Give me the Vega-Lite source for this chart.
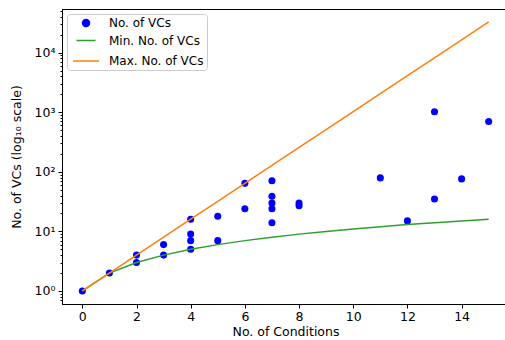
{
  "$schema": "https://vega.github.io/schema/vega-lite/v6.json",
  "width": 447,
  "height": 295,
  "autosize": {"type": "none"},
  "padding": {"left": 62, "top": 9, "right": 0, "bottom": 36},
  "background": "white",
  "config": {
    "view": {"stroke": "black", "strokeWidth": 1},
    "font": "DejaVu Sans",
    "axis": {
      "labelFont": "DejaVu Sans",
      "labelFontSize": 12.5,
      "labelColor": "black",
      "titleFont": "DejaVu Sans",
      "titleFontSize": 12.5,
      "titleFontWeight": "normal",
      "titleColor": "black",
      "domainColor": "black",
      "tickColor": "black",
      "grid": false
    },
    "legend": {
      "orient": "top-left",
      "offset": 5,
      "padding": 3,
      "symbolOffset": 2,
      "rowPadding": -3,
      "strokeColor": "#cccccc",
      "fillColor": "white",
      "cornerRadius": 3,
      "labelFont": "DejaVu Sans",
      "labelFontSize": 12,
      "labelColor": "black",
      "labelOffset": 9,
      "symbolStrokeWidth": 1.5,
      "symbolOpacity": 1
    }
  },
  "layer": [
    {
      "data": {"values": [
        {"cond": 0, "vcs": 1, "series": "No. of VCs"},
        {"cond": 1, "vcs": 2, "series": "No. of VCs"},
        {"cond": 2, "vcs": 4, "series": "No. of VCs"},
        {"cond": 2, "vcs": 3, "series": "No. of VCs"},
        {"cond": 3, "vcs": 6, "series": "No. of VCs"},
        {"cond": 3, "vcs": 4, "series": "No. of VCs"},
        {"cond": 4, "vcs": 16, "series": "No. of VCs"},
        {"cond": 4, "vcs": 9, "series": "No. of VCs"},
        {"cond": 4, "vcs": 7, "series": "No. of VCs"},
        {"cond": 4, "vcs": 5, "series": "No. of VCs"},
        {"cond": 5, "vcs": 18, "series": "No. of VCs"},
        {"cond": 5, "vcs": 7, "series": "No. of VCs"},
        {"cond": 6, "vcs": 64, "series": "No. of VCs"},
        {"cond": 6, "vcs": 24, "series": "No. of VCs"},
        {"cond": 7, "vcs": 71, "series": "No. of VCs"},
        {"cond": 7, "vcs": 39, "series": "No. of VCs"},
        {"cond": 7, "vcs": 30, "series": "No. of VCs"},
        {"cond": 7, "vcs": 24, "series": "No. of VCs"},
        {"cond": 7, "vcs": 14, "series": "No. of VCs"},
        {"cond": 8, "vcs": 30, "series": "No. of VCs"},
        {"cond": 8, "vcs": 27, "series": "No. of VCs"},
        {"cond": 11, "vcs": 79, "series": "No. of VCs"},
        {"cond": 12, "vcs": 15, "series": "No. of VCs"},
        {"cond": 13, "vcs": 1018, "series": "No. of VCs"},
        {"cond": 13, "vcs": 35, "series": "No. of VCs"},
        {"cond": 14, "vcs": 76, "series": "No. of VCs"},
        {"cond": 15, "vcs": 700, "series": "No. of VCs"}
      ]},
      "mark": {"type": "point", "filled": true, "opacity": 1},
      "encoding": {
        "x": {
          "field": "cond", "type": "quantitative",
          "scale": {"domain": [-0.75, 15.75], "nice": false, "zero": false},
          "axis": {"values": [0, 2, 4, 6, 8, 10, 12, 14], "title": "No. of Conditions", "tickSize": 4, "labelPadding": 2, "titlePadding": 3, "labelFlush": false}
        },
        "y": {
          "field": "vcs", "type": "quantitative",
          "scale": {"type": "log", "domain": [0.605, 53900], "nice": false},
          "axis": {
            "title": "No. of VCs (log₁₀ scale)",
            "titlePadding": 11,
            "labelPadding": 3,
            "labelFlush": false,
            "labelOverlap": false,
            "values": [0.7, 0.8, 0.9, 1, 2, 3, 4, 5, 6, 7, 8, 9, 10, 20, 30, 40, 50, 60, 70, 80, 90, 100, 200, 300, 400, 500, 600, 700, 800, 900, 1000, 2000, 3000, 4000, 5000, 6000, 7000, 8000, 9000, 10000, 20000, 30000, 40000, 50000],
            "labelExpr": "datum.value == 1 ? '10⁰' : datum.value == 10 ? '10¹' : datum.value == 100 ? '10²' : datum.value == 1000 ? '10³' : datum.value == 10000 ? '10⁴' : ''",
            "tickSize": {"condition": {"test": "indexof([1, 10, 100, 1000, 10000], datum.value) >= 0", "value": 4}, "value": 2}
          }
        },
        "color": {
          "field": "series", "type": "nominal", "title": null,
          "scale": {"domain": ["No. of VCs", "Min. No. of VCs", "Max. No. of VCs"], "range": ["#0000ff", "#2ca02c", "#ff7f0e"]}
        },
        "shape": {
          "field": "series", "type": "nominal", "title": null,
          "scale": {"domain": ["No. of VCs", "Min. No. of VCs", "Max. No. of VCs"], "range": ["circle", "stroke", "stroke"]}
        },
        "size": {
          "field": "series", "type": "nominal", "title": null,
          "scale": {"domain": ["No. of VCs", "Min. No. of VCs", "Max. No. of VCs"], "range": [50, 676, 676]}
        }
      }
    },
    {
      "data": {"values": [
        {"cond": 0, "vcs": 1, "series": "Min. No. of VCs"},
        {"cond": 1, "vcs": 2, "series": "Min. No. of VCs"},
        {"cond": 2, "vcs": 3, "series": "Min. No. of VCs"},
        {"cond": 3, "vcs": 4, "series": "Min. No. of VCs"},
        {"cond": 4, "vcs": 5, "series": "Min. No. of VCs"},
        {"cond": 5, "vcs": 6, "series": "Min. No. of VCs"},
        {"cond": 6, "vcs": 7, "series": "Min. No. of VCs"},
        {"cond": 7, "vcs": 8, "series": "Min. No. of VCs"},
        {"cond": 8, "vcs": 9, "series": "Min. No. of VCs"},
        {"cond": 9, "vcs": 10, "series": "Min. No. of VCs"},
        {"cond": 10, "vcs": 11, "series": "Min. No. of VCs"},
        {"cond": 11, "vcs": 12, "series": "Min. No. of VCs"},
        {"cond": 12, "vcs": 13, "series": "Min. No. of VCs"},
        {"cond": 13, "vcs": 14, "series": "Min. No. of VCs"},
        {"cond": 14, "vcs": 15, "series": "Min. No. of VCs"},
        {"cond": 15, "vcs": 16, "series": "Min. No. of VCs"}
      ]},
      "mark": {"type": "line", "strokeWidth": 1.5},
      "encoding": {
        "x": {"field": "cond", "type": "quantitative"},
        "y": {"field": "vcs", "type": "quantitative"},
        "color": {"field": "series", "type": "nominal", "title": null}
      }
    },
    {
      "data": {"values": [
        {"cond": 0, "vcs": 1, "series": "Max. No. of VCs"},
        {"cond": 1, "vcs": 2, "series": "Max. No. of VCs"},
        {"cond": 2, "vcs": 4, "series": "Max. No. of VCs"},
        {"cond": 3, "vcs": 8, "series": "Max. No. of VCs"},
        {"cond": 4, "vcs": 16, "series": "Max. No. of VCs"},
        {"cond": 5, "vcs": 32, "series": "Max. No. of VCs"},
        {"cond": 6, "vcs": 64, "series": "Max. No. of VCs"},
        {"cond": 7, "vcs": 128, "series": "Max. No. of VCs"},
        {"cond": 8, "vcs": 256, "series": "Max. No. of VCs"},
        {"cond": 9, "vcs": 512, "series": "Max. No. of VCs"},
        {"cond": 10, "vcs": 1024, "series": "Max. No. of VCs"},
        {"cond": 11, "vcs": 2048, "series": "Max. No. of VCs"},
        {"cond": 12, "vcs": 4096, "series": "Max. No. of VCs"},
        {"cond": 13, "vcs": 8192, "series": "Max. No. of VCs"},
        {"cond": 14, "vcs": 16384, "series": "Max. No. of VCs"},
        {"cond": 15, "vcs": 32768, "series": "Max. No. of VCs"}
      ]},
      "mark": {"type": "line", "strokeWidth": 1.5},
      "encoding": {
        "x": {"field": "cond", "type": "quantitative"},
        "y": {"field": "vcs", "type": "quantitative"},
        "color": {"field": "series", "type": "nominal", "title": null}
      }
    }
  ]
}
